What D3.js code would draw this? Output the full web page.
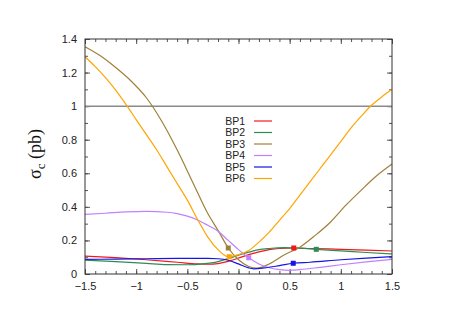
<!DOCTYPE html>
<html>
<head>
<meta charset="utf-8">
<script src="https://cdn.jsdelivr.net/npm/d3@7"></script>
<style>
  body { margin: 0; background: #fff; }
  svg { display: block; }
  .tick text { font-family: "Liberation Sans", Arial, sans-serif; font-size: 11px; fill: #222; }
</style>
</head>
<body>
<svg id="chart" width="452" height="320"></svg>
<script>
// series names and colours
var names = ["BP1", "BP2", "BP3", "BP4", "BP5", "BP6"];
var colors = ["#f01818", "#2e8b57", "#a08038", "#c080ff", "#1515e6", "#ffa500"];

// curves: [mixing angle, cross section in pb]
var bp1 = [[-1.5,0.107],[-1.2,0.097],[-0.9,0.085],[-0.6,0.07],[-0.4,0.06],[-0.3,0.058],[-0.2,0.062],[-0.1,0.075],[0.0,0.095],[0.1,0.115],[0.2,0.132],[0.3,0.145],[0.4,0.152],[0.54,0.155],[0.7,0.152],[1.0,0.147],[1.25,0.142],[1.5,0.137]];
var bp2 = [[-1.5,0.083],[-1.2,0.074],[-0.9,0.063],[-0.7,0.056],[-0.5,0.055],[-0.35,0.06],[-0.2,0.074],[-0.1,0.092],[0.0,0.112],[0.1,0.13],[0.2,0.145],[0.3,0.152],[0.45,0.157],[0.6,0.154],[0.76,0.147],[1.0,0.138],[1.25,0.128],[1.5,0.119]];
var bp3 = [[-1.5,1.354],[-1.35,1.3],[-1.2,1.23],[-1.05,1.15],[-0.9,1.05],[-0.75,0.91],[-0.6,0.74],[-0.45,0.55],[-0.3,0.36],[-0.2,0.26],[-0.1,0.155],[0.0,0.085],[0.1,0.045],[0.18,0.035],[0.3,0.06],[0.45,0.115],[0.6,0.16],[0.75,0.23],[0.9,0.31],[1.05,0.41],[1.2,0.5],[1.35,0.585],[1.5,0.655]];
var bp4 = [[-1.5,0.355],[-1.3,0.362],[-1.1,0.37],[-0.9,0.373],[-0.7,0.368],[-0.6,0.36],[-0.5,0.345],[-0.4,0.322],[-0.3,0.29],[-0.2,0.255],[-0.1,0.2],[0.0,0.145],[0.1,0.097],[0.2,0.06],[0.3,0.037],[0.4,0.026],[0.5,0.022],[0.6,0.026],[0.8,0.04],[1.0,0.055],[1.25,0.072],[1.5,0.087]];
var bp5 = [[-1.5,0.087],[-1.2,0.089],[-0.9,0.091],[-0.6,0.093],[-0.3,0.093],[-0.2,0.091],[-0.1,0.082],[0.0,0.06],[0.1,0.036],[0.15,0.031],[0.25,0.036],[0.4,0.05],[0.535,0.064],[0.7,0.07],[1.0,0.085],[1.25,0.095],[1.5,0.103]];
var bp6 = [[-1.5,1.294],[-1.4,1.235],[-1.3,1.17],[-1.2,1.095],[-1.1,1.01],[-1.0,0.92],[-0.9,0.83],[-0.8,0.74],[-0.7,0.64],[-0.6,0.54],[-0.5,0.44],[-0.4,0.325],[-0.3,0.22],[-0.2,0.145],[-0.1,0.103],[0.0,0.115],[0.1,0.14],[0.2,0.19],[0.3,0.25],[0.4,0.32],[0.5,0.39],[0.6,0.47],[0.7,0.55],[0.8,0.63],[0.9,0.71],[1.0,0.79],[1.1,0.87],[1.2,0.94],[1.3,1.005],[1.4,1.055],[1.5,1.1]];
var series = [bp1, bp2, bp3, bp4, bp5, bp6];

// the square marker on each curve
var markers = [[0.54,0.155],[0.76,0.147],[-0.1,0.155],[0.1,0.097],[0.535,0.064],[-0.09,0.103]];

var xMajor = [-1.5, -1, -0.5, 0, 0.5, 1, 1.5];
var yMajor = [0, 0.2, 0.4, 0.6, 0.8, 1, 1.2, 1.4];
var refLine = 1;

var svg = d3.select("#chart");
var plotLeft = 85, plotRight = 392, plotTop = 39, plotBottom = 274;

var x = d3.scaleLinear().domain([-1.5, 1.5]).range([plotLeft, plotRight]);
var y = d3.scaleLinear().domain([0, 1.4]).range([plotBottom, plotTop]);

var xMinor = d3.range(-15, 16).map(function (d) { return d / 10; });
var yMinor = d3.range(0, 15).map(function (d) { return d / 10; });

// axes, ticks pointing inwards on all four sides
function fmt(d) { return d3.format("~g")(d); }
svg.append("g").attr("transform", "translate(0," + plotBottom + ")")
    .call(d3.axisBottom(x).tickValues(xMinor).tickSize(-3).tickFormat(""));
svg.append("g").attr("transform", "translate(0," + plotBottom + ")")
    .call(d3.axisBottom(x).tickValues(xMajor).tickSize(-5).tickPadding(8).tickFormat(fmt));
svg.append("g").attr("transform", "translate(0," + plotTop + ")")
    .call(d3.axisTop(x).tickValues(xMinor).tickSize(-3).tickFormat(""));
svg.append("g").attr("transform", "translate(0," + plotTop + ")")
    .call(d3.axisTop(x).tickValues(xMajor).tickSize(-5).tickFormat(""));
svg.append("g").attr("transform", "translate(" + plotLeft + ",0)")
    .call(d3.axisLeft(y).tickValues(yMinor).tickSize(-3).tickFormat(""));
svg.append("g").attr("transform", "translate(" + plotLeft + ",0)")
    .call(d3.axisLeft(y).tickValues(yMajor).tickSize(-5).tickPadding(8).tickFormat(fmt));
svg.append("g").attr("transform", "translate(" + plotRight + ",0)")
    .call(d3.axisRight(y).tickValues(yMinor).tickSize(-3).tickFormat(""));
svg.append("g").attr("transform", "translate(" + plotRight + ",0)")
    .call(d3.axisRight(y).tickValues(yMajor).tickSize(-5).tickFormat(""));

svg.selectAll(".domain").remove();
svg.selectAll(".tick line").attr("stroke", "#555");

// reference line at 1 pb
svg.append("line")
    .attr("x1", x(-1.5)).attr("x2", x(1.5))
    .attr("y1", y(refLine)).attr("y2", y(refLine))
    .attr("stroke", "#8a8a8a").attr("stroke-width", 1.5);

var line = d3.line()
    .x(function (d) { return x(d[0]); })
    .y(function (d) { return y(d[1]); })
    .curve(d3.curveMonotoneX);

svg.append("g").selectAll("path")
    .data(series)
    .enter().append("path")
    .attr("d", line)
    .attr("fill", "none")
    .attr("stroke", function (d, i) { return colors[i]; })
    .attr("stroke-width", 1.2);

svg.append("g").selectAll("rect")
    .data(markers)
    .enter().append("rect")
    .attr("x", function (d) { return x(d[0]) - 2.5; })
    .attr("y", function (d) { return y(d[1]) - 2.5; })
    .attr("width", 5).attr("height", 5)
    .attr("fill", function (d, i) { return colors[i]; });

// frame
svg.append("rect")
    .attr("x", plotLeft).attr("y", plotTop)
    .attr("width", plotRight - plotLeft).attr("height", plotBottom - plotTop)
    .attr("fill", "none").attr("stroke", "#333").attr("stroke-width", 1);

// legend
var legend = svg.append("g").attr("transform", "translate(245,121)");
var rows = legend.selectAll("g").data(names).enter().append("g")
    .attr("transform", function (d, i) { return "translate(0," + (i * 11.5) + ")"; });
rows.append("text")
    .attr("text-anchor", "end")
    .attr("dy", "0.35em")
    .style("font-family", "Liberation Sans, Arial, sans-serif")
    .style("font-size", "10.5px")
    .attr("fill", "#222")
    .text(function (d) { return d; });
rows.append("line")
    .attr("x1", 9).attr("x2", 27)
    .attr("stroke", function (d, i) { return colors[i]; })
    .attr("stroke-width", 1.2);

// y axis title
var title = svg.append("text")
    .attr("transform", "translate(41,154) rotate(-90)")
    .attr("text-anchor", "middle")
    .style("font-family", "Liberation Serif, Times New Roman, serif")
    .style("font-size", "18px")
    .attr("fill", "#111");
title.append("tspan").text("σ");
title.append("tspan").attr("dy", 4).style("font-size", "13px").text("c");
title.append("tspan").attr("dy", -4).text(" (pb)");
</script>
</body>
</html>
